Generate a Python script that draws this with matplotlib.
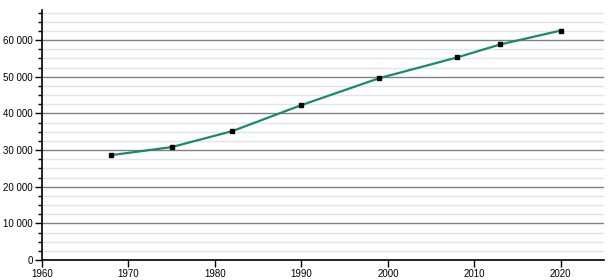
import matplotlib
matplotlib.use("Agg")
import matplotlib.pyplot as plt
from matplotlib.ticker import MultipleLocator, FuncFormatter

years = [1968, 1975, 1982, 1990, 1999, 2008, 2013, 2020]
population = [28600, 30800, 35150, 42250, 49600, 55250, 58800, 62600]

plt.rcParams['font.family'] = ['Liberation Sans', 'DejaVu Sans']

fig = plt.figure(figsize=(6.15, 2.8), dpi=100)
ax = fig.add_axes([42/615, 20/280, (604-42)/615, (260-10)/280])

ax.plot(years, population, color='#168b6a', lw=1.6, zorder=3)
ax.plot(years, population, 's', color='black', ms=3.5, zorder=4)

ax.set_xlim(1960, 2025)
ax.set_ylim(0, 68200)
ax.xaxis.set_major_locator(MultipleLocator(10))
ax.yaxis.set_major_locator(MultipleLocator(10000))
ax.yaxis.set_minor_locator(MultipleLocator(2500))
ax.yaxis.set_major_formatter(FuncFormatter(lambda v, p: f"{int(v):,}".replace(",", " ")))

ax.grid(axis='y', which='major', color='#808080', lw=1)
ax.grid(axis='y', which='minor', color='#e4e4e4', lw=1)
ax.set_axisbelow(True)

for s in ['top', 'right']:
    ax.spines[s].set_visible(False)
ax.spines['left'].set_linewidth(1.2)
ax.spines['bottom'].set_linewidth(1.2)
ax.tick_params(which='major', length=5, width=1, labelsize=7, colors='black', pad=1.5)
ax.tick_params(axis='y', which='minor', length=3, width=1)

fig.savefig("out.png", dpi=100)
